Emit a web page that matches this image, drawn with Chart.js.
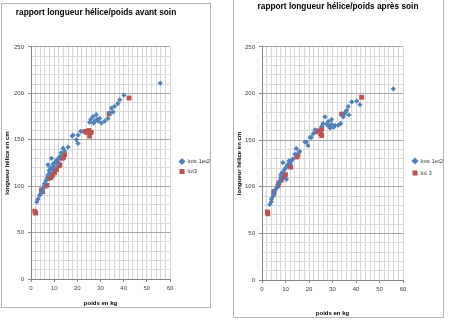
<!DOCTYPE html>
<html>
<head>
<meta charset="utf-8">
<script src="https://cdn.jsdelivr.net/npm/chart.js@4/dist/chart.umd.min.js"></script>
<style>
  body { margin: 0; background: #fff; width: 450px; height: 324px; position: relative; overflow: hidden; }
  .box { position: absolute; border: 1px solid #b5b5b5; background: #fff; }
  #box1 { left: 1px; top: 3px; width: 208px; height: 303px; }
  #box2 { left: 233px; top: -2px; width: 209px; height: 318px; }
  canvas { position: absolute; left: 0; top: 0; }
</style>
</head>
<body>
<div class="box" id="box1"><canvas id="chart-avant"></canvas></div>
<div class="box" id="box2"><canvas id="chart-apres"></canvas></div>
<script>
// avant soin
const avantLots12 = [
  [2.5,83],[3,86],[3.7,90],[4.2,92],[5,95],[5.5,99],[5.9,103],[6.5,106],[7,108],[7.3,112],
  [7.3,123],[7.8,117],[8,114],[8.5,120],[8.8,130],[9.2,118],[9.5,124],[10,121],[10.5,126],[11,128],
  [11.5,124],[12,130],[12.5,132],[13,136],[13.8,141],[14.5,138],[16,142],[17.8,154],[18.1,155],[19.6,150],
  [20.3,146],[20.3,155],[21.4,159],[25.3,169],[25.8,172],[26.8,175],[27,168],[27.5,170],[28.2,177],[28.5,172],
  [28.9,170],[29.6,173],[30.4,168],[31.8,170],[33.2,173],[34,179],[34.7,184],[35.4,180],[36.1,186],[37.5,189],
  [38.3,193],[40.1,198],[55.8,211]
]
const avantLot3 = [
  [1.6,73],[2,71],[4.5,96],[5,94],[6,100],[6.8,101],[7.3,108],[7.5,110],[8.5,109],[9,111],
  [9.5,113],[10.2,115],[11,118],[11.6,125],[12,122],[12.5,123],[13.5,130],[14,131],[14.5,134],
  [23.2,159],[24,158],[25,160],[26,158],[25.3,154],[33.7,178],[42.3,195]
]
// après soin
const apresLots12 = [
  [3.3,81],[4,84],[4,87],[4.8,90],[5,93],[5.5,96],[6,98],[6.5,100],[7,104],[7.5,106],
  [8,110],[8,113],[8.5,115],[8.9,126],[9.5,118],[10,120],[10.4,108],[10.5,122],[11,124],[11.5,128],
  [12,126],[12.5,128],[13.2,130],[14,135],[14.6,141],[15.8,137],[16,138],[18.3,148],[18.9,148],[19.6,144],
  [20.4,153],[21,153],[21.8,157],[22.6,161],[25.5,165],[26,168],[26.8,175],[27.5,167],[28.2,170],[28.5,165],
  [29,163],[29.6,167],[29.6,172],[30.5,164],[31.1,166],[32.5,166],[33.5,168],[34.6,175],[35,178],[35.5,180],
  [36,182],[36.7,186],[37,177],[38.2,191],[40.3,192],[41.7,188],[55.9,205]
]
const apresLot3 = [
  [2.3,73],[2.5,71],[5.1,95],[5,93],[6.8,101],[7.2,104],[8.2,107],[8.5,110],[9,112],[9.5,111],
  [10,113],[11.8,123],[12.2,121],[14.8,132],[15.3,134],[23.1,159],[24,160],[25,157],[25.4,155],[25.4,162],
  [33.9,178],[42.4,196]
]

const xMax = 60
const yMax = 250

const fontFam = '"Liberation Sans Narrow", "Liberation Sans", sans-serif'
Chart.defaults.font.family = fontFam
Chart.defaults.color = '#404040'
Chart.defaults.animation = false

// nudge title / legend boxes after layout (Excel-like placement)
const nudge = {
  id: 'nudge',
  afterLayout(chart, args, opts) {
    if (chart.legend) {
      chart.legend.left += opts.legendX || 0
      chart.legend.right += opts.legendX || 0
      chart.legend.top += opts.legendY || 0
      chart.legend.bottom += opts.legendY || 0
    }
    if (chart.titleBlock && opts.titleCenter) {
      const dx = opts.titleCenter - (chart.titleBlock.left + chart.titleBlock.right) / 2
      chart.titleBlock.left += dx
      chart.titleBlock.right += dx
    }
  }
}

// width chart.js will give a right-side legend (so the plot can end where wanted)
function legendWidth(labels, gap){
  const c = document.createElement('canvas').getContext('2d')
  c.font = 'normal 6px ' + fontFam
  const tw = Math.max(...labels.map(t => c.measureText(t).width))
  return gap + 5 + 3 + tw + 10
}

function toPts(arr){
  return arr.map(p => ({x: p[0], y: p[1]}))
}

function makeChart(id, w, h, title, lotsLabel, lot3Label, lots12, lot3, pad){
  const cv = document.getElementById(id)
  cv.width = w
  cv.height = h
  cv.style.width = w + 'px'
  cv.style.height = h + 'px'
  const lw = legendWidth([lotsLabel, lot3Label], pad.legendGap)
  const padRight = w - pad.plotRight - lw
  return new Chart(cv, {
    type: 'scatter',
    plugins: [nudge],
    data: {
      datasets: [{
        label: lotsLabel,
        data: toPts(lots12),
        pointStyle: 'rectRot',
        pointRadius: 2.6,
        backgroundColor: '#4f81bd',
        borderColor: '#4f81bd',
        borderWidth: 0
      },
      {
        label: lot3Label,
        data: toPts(lot3),
        pointStyle: 'rect',
        pointRadius: 3.4,
        backgroundColor: '#c0504d',
        borderColor: '#c0504d',
        borderWidth: 0
      }]
    },
    options: {
      responsive: false,
      layout: { padding: { top: 0, left: 2, right: padRight, bottom: 0 } },
      plugins: {
        nudge: { legendX: pad.markerX - (pad.plotRight + pad.legendGap + 2.5), legendY: pad.legendY, titleCenter: pad.titleCenter },
        title: {
          display: true,
          text: title,
          color: '#000',
          font: { size: 8.3, weight: 'bold' },
          padding: pad.title
        },
        legend: {
          position: 'right',
          labels: {
            usePointStyle: true,
            boxWidth: 5,
            boxHeight: 5,
            padding: pad.legendGap,
            font: { size: 6 },
            color: '#404040'
          }
        },
        tooltip: { enabled: false }
      },
      scales: {
        x: {
          min: 0,
          max: xMax,
          ticks: {
            stepSize: 2,
            autoSkip: false,
            maxRotation: 0,
            font: { size: 6 },
            padding: 3,
            callback: v => v % 10 === 0 ? v : ''
          },
          grid: {
            color: '#d6d6d6',
            tickLength: 3,
            tickColor: ctx => ctx.tick && ctx.tick.value % 10 === 0 ? '#868686' : 'rgba(0,0,0,0)'
          },
          border: { color: '#868686' },
          title: {
            display: true,
            text: 'poids en kg',
            color: '#000',
            font: { size: 6, weight: 'bold' },
            padding: { top: 5, bottom: 0 }
          },
          afterFit: s => { s.height = pad.xh }
        },
        y: {
          min: 0,
          max: yMax,
          ticks: {
            stepSize: 10,
            autoSkip: false,
            font: { size: 6 },
            padding: 4,
            callback: v => v % 50 === 0 ? v : ''
          },
          grid: {
            color: ctx => ctx.tick && ctx.tick.value % 50 === 0 ? '#a6a6a6' : '#d9d9d9',
            tickLength: 3,
            tickColor: ctx => ctx.tick && ctx.tick.value % 50 === 0 ? '#868686' : 'rgba(0,0,0,0)'
          },
          border: { color: '#868686' },
          title: {
            display: true,
            text: 'longueur hélice en cm',
            color: '#000',
            font: { size: 6, weight: 'bold' },
            padding: { top: 0, bottom: 4 }
          },
          afterFit: s => { s.width = pad.yw }
        }
      }
    }
  })
}

const chartAvant = makeChart('chart-avant', 208, 303,
  'rapport longueur hélice/poids avant soin', 'lots 1et2', 'lot3',
  avantLots12, avantLot3,
  { plotRight: 168, markerX: 180, legendGap: 4, legendY: 11, titleCenter: 94,
    title: { top: 4, bottom: 29 }, xh: 28, yw: 27 })

const chartApres = makeChart('chart-apres', 209, 318,
  'rapport longueur hélice/poids après soin', 'lots 1et2', 'lot 3',
  apresLots12, apresLot3,
  { plotRight: 169, markerX: 181, legendGap: 6, legendY: 9, titleCenter: 104,
    title: { top: 3, bottom: 35 }, xh: 37, yw: 26 })
</script>
</body>
</html>
